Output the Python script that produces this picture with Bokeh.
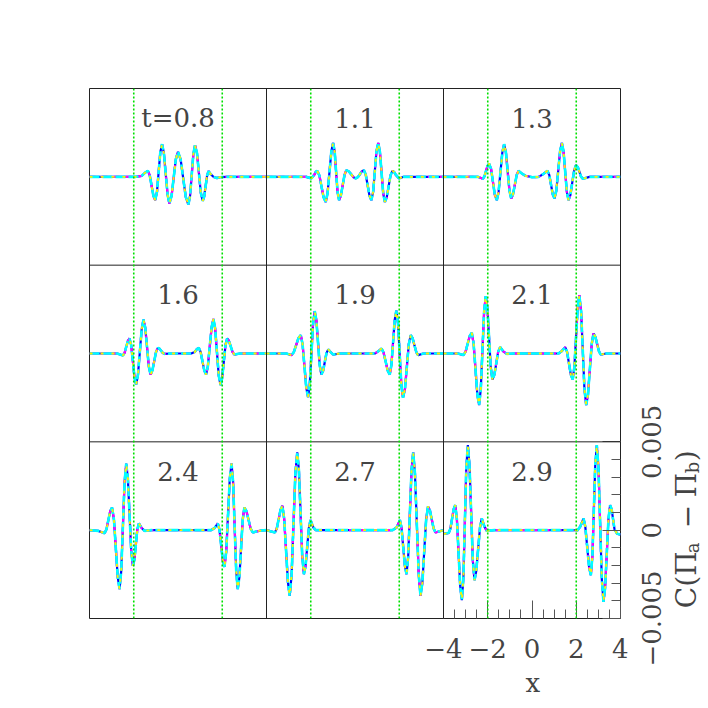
import math
from bokeh.plotting import figure
from bokeh.layouts import row
from bokeh.models import Span, Label, FixedTicker, Range1d, ColumnDataSource, Title
from bokeh.core.properties import value
from bokeh.embed import file_html
from bokeh.resources import INLINE

# ---------------- data: C(Pi_a - Pi_b) in units of 1e-3, x from -4 to 4 ----------------
TIMES = ["t=0.8", "1.1", "1.3", "1.6", "1.9", "2.1", "2.4", "2.7", "2.9"]

X1 = [-4.0, -2.5, -1.9, -1.65, -1.5, -1.36, -1.28, -1.195, -1.11, -1.03, -0.95, -0.875, -0.80, -0.72,
      -0.64, -0.555, -0.47, -0.39, -0.29, -0.195, -0.10, 0.0, 0.12, 0.235, 0.35, 0.47, 0.545, 0.62,
      0.695, 0.77, 0.86, 0.945, 1.03, 1.12, 1.185, 1.25, 1.315, 1.38, 1.48, 1.60, 1.75, 1.90, 2.2, 4.0]
Y1 = [0, 0, 0, 0.05, 0.22, 0.34, 0.10, -0.49, -1.08, -1.32, -0.86, 0.27, 1.39, 1.85,
      1.36, 0.17, -1.02, -1.51, -1.08, -0.05, 0.99, 1.42, 0.98, -0.08, -1.13, -1.57, -1.08, 0.11,
      1.30, 1.79, 1.33, 0.22, -0.90, -1.36, -1.11, -0.52, 0.07, 0.32, 0.15, 0.0, -0.07, -0.02, 0, 0]

X2 = [-4.0, -2.2, -1.97, -1.84, -1.775, -1.71, -1.61, -1.515, -1.42, -1.32, -1.24, -1.155, -1.07, -0.99,
      -0.92, -0.855, -0.79, -0.72, -0.64, -0.555, -0.47, -0.39, -0.28, -0.175, -0.07, 0.04, 0.13, 0.22,
      0.31, 0.40, 0.485, 0.57, 0.655, 0.74, 0.82, 0.895, 0.97, 1.05, 1.125, 1.20, 1.275, 1.35, 1.435,
      1.52, 1.605, 1.69, 1.765, 1.84, 1.99, 2.2, 4.0]
Y2 = [0, 0, -0.09, 0.12, 0.28, 0.34, 0.08, -0.54, -1.16, -1.42, -0.93, 0.25, 1.43, 1.92,
      1.45, 0.30, -0.85, -1.32, -1.07, -0.47, 0.13, 0.38, 0.31, 0.145, -0.02, -0.09, -0.02, 0.145,
      0.31, 0.38, 0.13, -0.47, -1.07, -1.32, -0.85, 0.30, 1.45, 1.92, 1.43, 0.25, -0.93, -1.42, -1.16,
      -0.54, 0.08, 0.34, 0.28, 0.12, -0.09, 0, 0]

X3 = [-4.0, -2.45, -2.22, -2.15, -2.08, -2.01, -1.94, -1.85, -1.765, -1.68, -1.59, -1.51, -1.425, -1.34,
      -1.26, -1.18, -1.10, -1.02, -0.94, -0.86, -0.775, -0.69, -0.61, -0.45, -0.30, 0.0, 0.30, 0.50,
      0.70, 0.78, 0.86, 0.94, 1.02, 1.10, 1.185, 1.27, 1.35, 1.425, 1.50, 1.575, 1.65, 1.735, 1.82,
      1.905, 1.99, 2.07, 2.145, 2.22, 2.30, 2.6, 4.0]
Y3 = [0, 0, -0.11, 0.02, 0.32, 0.62, 0.75, 0.45, -0.285, -1.02, -1.32, -0.855, 0.265, 1.385,
      1.85, 1.40, 0.31, -0.78, -1.23, -1.00, -0.445, 0.11, 0.34, 0.18, 0.06, -0.02, 0.0, 0.15,
      0.34, 0.11, -0.445, -1.00, -1.23, -0.77, 0.345, 1.46, 1.92, 1.45, 0.30, -0.85, -1.32, -1.03, -0.33,
      0.37, 0.66, 0.55, 0.275, 0.0, -0.11, 0, 0]

X4 = [-4.0, -2.75, -2.49, -2.415, -2.34, -2.265, -2.19, -2.115, -2.04, -1.965, -1.89, -1.81, -1.725, -1.64,
      -1.56, -1.48, -1.40, -1.32, -1.24, -1.16, -1.075, -0.99, -0.91, -0.835, -0.76, -0.685, -0.61, -0.3,
      0.6, 0.75, 0.85, 0.94, 1.02, 1.105, 1.19, 1.27, 1.35, 1.435, 1.52, 1.60, 1.68, 1.76, 1.84, 1.92,
      1.995, 2.07, 2.145, 2.22, 2.30, 2.385, 2.47, 2.55, 2.8, 4.0]
Y4 = [0, 0, -0.11, 0.03, 0.37, 0.71, 0.85, 0.47, -0.45, -1.37, -1.75, -1.21, 0.085, 1.38,
      1.92, 1.46, 0.365, -0.73, -1.19, -0.97, -0.435, 0.10, 0.32, 0.27, 0.15, 0.03, -0.02, 0,
      0, 0.08, 0.24, 0.32, 0.10, -0.435, -0.97, -1.19, -0.73, 0.385, 1.50, 1.96, 1.41, 0.085, -1.24, -1.79,
      -1.40, -0.47, 0.46, 0.85, 0.72, 0.395, 0.07, -0.06, 0, 0]

X5 = [-4.0, -3.1, -2.87, -2.765, -2.66, -2.555, -2.45, -2.37, -2.285, -2.20, -2.12, -2.045, -1.97, -1.895,
      -1.82, -1.745, -1.67, -1.595, -1.52, -1.44, -1.365, -1.29, -1.21, -1.10, -0.99, -0.7, 0.9, 1.05,
      1.20, 1.29, 1.385, 1.48, 1.57, 1.645, 1.72, 1.795, 1.87, 1.945, 2.02, 2.095, 2.17, 2.26, 2.345,
      2.43, 2.52, 2.60, 2.685, 2.77, 2.85, 3.1, 4.0]
Y5 = [0, 0, -0.09, 0.08, 0.475, 0.87, 1.04, 0.53, -0.715, -1.96, -2.47, -1.76, -0.035, 1.69,
      2.40, 1.87, 0.605, -0.66, -1.19, -0.98, -0.48, 0.02, 0.23, 0.08, -0.06, 0, 0, 0.12,
      0.28, 0.06, -0.455, -0.975, -1.19, -0.66, 0.62, 1.90, 2.43, 1.71, -0.04, -1.79, -2.51, -1.99, -0.735,
      0.52, 1.04, 0.87, 0.475, 0.08, -0.09, 0, 0]

X6 = [-4.0, -3.35, -3.10, -3.005, -2.91, -2.815, -2.72, -2.64, -2.555, -2.47, -2.39, -2.315, -2.24, -2.165,
      -2.09, -2.015, -1.94, -1.865, -1.79, -1.70, -1.615, -1.53, -1.44, -1.30, -1.14, -0.8, 1.2, 1.35,
      1.50, 1.585, 1.67, 1.755, 1.84, 1.915, 1.99, 2.065, 2.14, 2.22, 2.295, 2.37, 2.45, 2.53, 2.615,
      2.70, 2.78, 2.86, 2.945, 3.03, 3.11, 3.35, 4.0]
Y6 = [0, 0, -0.09, 0.09, 0.54, 0.99, 1.17, 0.57, -0.875, -2.32, -2.92, -2.02, 0.165, 2.35,
      3.25, 2.56, 0.89, -0.78, -1.47, -1.20, -0.555, 0.09, 0.36, 0.12, -0.02, 0, 0, 0.14,
      0.36, 0.09, -0.555, -1.20, -1.47, -0.77, 0.915, 2.60, 3.30, 2.39, 0.19, -2.01, -2.92, -2.33, -0.895,
      0.54, 1.13, 0.96, 0.535, 0.11, -0.06, 0, 0]

X7 = [-4.0, -3.6, -3.32, -3.235, -3.15, -3.065, -2.98, -2.895, -2.81, -2.725, -2.64, -2.565, -2.49, -2.415,
      -2.34, -2.265, -2.19, -2.115, -2.04, -1.97, -1.905, -1.84, -1.77, -1.64, -1.51, -1.2, 1.5, 1.65,
      1.80, 1.875, 1.95, 2.025, 2.10, 2.18, 2.26, 2.34, 2.42, 2.49, 2.56, 2.63, 2.70, 2.775, 2.85,
      2.925, 3.00, 3.095, 3.19, 3.285, 3.38, 3.7, 4.0]
Y7 = [0, -0.04, -0.17, 0.04, 0.555, 1.07, 1.28, 0.60, -1.03, -2.66, -3.34, -2.30, 0.215, 2.73,
      3.77, 2.92, 0.875, -1.17, -2.02, -1.67, -0.82, 0.03, 0.38, 0.12, -0.04, 0, 0, 0.12,
      0.38, 0.02, -0.85, -1.72, -2.08, -1.22, 0.845, 2.91, 3.77, 2.73, 0.215, -2.30, -3.34, -2.66, -1.03,
      0.60, 1.28, 1.07, 0.575, 0.08, -0.13, -0.03, 0]

X8 = [-4.0, -3.62, -3.535, -3.45, -3.365, -3.28, -3.20, -3.115, -3.03, -2.95, -2.865, -2.78, -2.695, -2.61,
      -2.535, -2.46, -2.385, -2.31, -2.235, -2.16, -2.085, -2.01, -1.89, -1.77, -1.4, 1.7, 1.88, 2.03,
      2.105, 2.18, 2.255, 2.33, 2.405, 2.48, 2.555, 2.63, 2.71, 2.795, 2.88, 2.96, 3.045, 3.13, 3.215,
      3.30, 3.385, 3.47, 3.555, 3.64, 4.0]
Y8 = [0, -0.13, 0.09, 0.625, 1.16, 1.38, 0.63, -1.17, -2.97, -3.72, -2.53, 0.34, 3.21, 4.40,
      3.39, 0.955, -1.48, -2.49, -2.04, -0.96, 0.12, 0.57, 0.17, 0, 0, 0, 0.15, 0.57,
      0.12, -0.96, -2.04, -2.49, -1.48, 0.955, 3.39, 4.40, 3.21, 0.34, -2.53, -3.72, -2.98, -1.19, 0.60,
      1.34, 1.13, 0.605, 0.09, -0.13, 0]

X9 = [-4.0, -3.76, -3.69, -3.615, -3.54, -3.47, -3.395, -3.32, -3.245, -3.17, -3.10, -3.035, -2.97, -2.90,
      -2.825, -2.75, -2.675, -2.60, -2.52, -2.435, -2.35, -2.27, -2.15, -2.04, -1.7, 1.9, 2.05, 2.18,
      2.33, 2.41, 2.495, 2.58, 2.66, 2.73, 2.795, 2.86, 2.93, 3.005, 3.08, 3.155, 3.23, 3.305, 3.38,
      3.455, 3.53, 3.60, 3.665, 3.73, 3.85, 4.0]
Y9 = [-0.22, -0.15, 0.08, 0.635, 1.19, 1.42, 0.63, -1.27, -3.17, -3.96, -2.68, 0.425, 3.53, 4.81,
      3.69, 0.99, -1.71, -2.83, -2.32, -1.085, 0.15, 0.66, 0.2, -0.04, 0, 0, -0.02, 0.2,
      0.66, 0.19, -0.945, -2.08, -2.55, -1.47, 1.13, 3.73, 4.81, 3.51, 0.375, -2.76, -4.06, -3.26, -1.32,
      0.62, 1.42, 1.18, 0.61, 0.04, -0.2, -0.25]

XS = [X1, X2, X3, X4, X5, X6, X7, X8, X9]
YS = [Y1, Y2, Y3, Y4, Y5, Y6, Y7, Y8, Y9]

X_TICKS = [-4, -2, 0, 2, 4]
X_TICK_LABELS = ["\u22124", "\u22122", "0", "2", "4"]
X_MINOR = [-3.5, -3, -2.5, -1.5, -1, -0.5, 0.5, 1, 1.5, 2.5, 3, 3.5]
Y_TICKS = [-5, 0, 5]                      # units of 1e-3
Y_TICK_LABELS = ["\u22120.005", "0", "0.005"]
Y_MINOR = [-4, -3, -2, -1, 1, 2, 3, 4]
GUIDES = [-2, 2]
X_LABEL = "x"
Y_LABEL_PARTS = ["C(\u03a0", "a", "\u2212", "\u03a0", "b", ")"]   # C(Pi_a - Pi_b)
Y_LABEL_IS_SUB = [False, True, False, False, True, False]

# ---------------- layout ----------------
NCOL, NROW = 3, 3
PW, PH = 8, 10           # panel extent in data units (x: -4..4, y: -5..5 e-3)
FONT = "DejaVu Serif"
TXT = "#444444"
H = 708
TOP, BOTTOM, LEFT = 88, 90, 89
FRAME_W, FRAME_H = 531, 530
PXU = FRAME_H / (NROW * PH)          # pixels per y data unit
P_W = LEFT + FRAME_W + 8

def xoff(c):
    return c * PW

def yoff(r):
    return (1 - r) * PH

p = figure(width=P_W, height=H,
           x_range=Range1d(-4, -4 + NCOL * PW), y_range=Range1d(-15, 15),
           output_backend="svg", toolbar_location=None, y_axis_location="right",
           min_border_left=LEFT, min_border_right=8, min_border_top=TOP, min_border_bottom=BOTTOM)
p.xgrid.visible = False
p.ygrid.visible = False
p.outline_line_color = "#222222"
p.outline_line_alpha = 1.0
p.background_fill_color = "white"
p.border_fill_color = "white"

for c in range(1, NCOL):
    p.add_layout(Span(location=-4 + c * PW, dimension="height", line_color="#222222", line_width=1))
for r in range(1, NROW):
    p.add_layout(Span(location=15 - r * PH, dimension="width", line_color="#222222", line_width=1))

for c in range(NCOL):
    for g in GUIDES:
        p.add_layout(Span(location=g + xoff(c), dimension="height", line_color="#00e000",
                          line_width=1.6, line_dash="2 2"))

STYLES = [("#0000ff", "solid", 2.2), ("#ff00ff", "6 6", 2.2), ("#00ffff", "10 3", 2.6), ("#ffee00", "3 8", 1.8)]

for i, (xs, ys) in enumerate(zip(XS, YS)):
    r, c = divmod(i, NCOL)
    src = ColumnDataSource(dict(x=[x + xoff(c) for x in xs], y=[y + yoff(r) for y in ys]))
    for col, dash, w in STYLES:
        p.line("x", "y", source=src, line_color=col, line_dash=dash, line_width=w)
    p.add_layout(Label(x=xoff(c), y=yoff(r) + PH / 2 - 1.67, text=TIMES[i], text_align="center",
                       text_baseline="middle", text_font=FONT, text_font_size="26px", text_color=TXT))

xt = [t + xoff(2) for t in X_TICKS]
p.xaxis.ticker = FixedTicker(ticks=xt, minor_ticks=[t + xoff(2) for t in X_MINOR])
p.xaxis.major_label_overrides = {t: lab for t, lab in zip(xt, X_TICK_LABELS)}
p.xaxis.major_label_standoff = 20
p.xaxis.major_label_text_font = FONT
p.xaxis.major_label_text_font_size = "26px"
p.xaxis.major_label_text_color = TXT
yt = [t + yoff(2) for t in Y_TICKS]
p.yaxis.ticker = FixedTicker(ticks=yt, minor_ticks=[t + yoff(2) for t in Y_MINOR])
p.yaxis.major_label_overrides = {t: "" for t in yt}
p.yaxis.major_label_text_font_size = "1px"
p.yaxis.major_label_standoff = 0
for ax in (p.xaxis, p.yaxis):
    ax.axis_line_color = None
    ax.major_tick_in = 18
    ax.major_tick_out = 0
    ax.minor_tick_in = 9
    ax.minor_tick_out = 0
    ax.major_tick_line_color = "#555555"
    ax.minor_tick_line_color = "#555555"

p.add_layout(Title(text=X_LABEL, align="left", offset=436, standoff=10, text_font=FONT,
                   text_font_size="26px", text_font_style="normal", text_color=TXT), "below")

# right strip: y tick labels (rotated) and the y-axis title, same vertical scale as the panels
Q_W = 708 - P_W
q = figure(width=Q_W, height=H, x_range=Range1d(P_W, 708),
           y_range=Range1d(-15 - BOTTOM / PXU, 15 + TOP / PXU),
           output_backend="svg", toolbar_location=None, x_axis_location=None, y_axis_location=None,
           min_border_left=0, min_border_right=0, min_border_top=0, min_border_bottom=0)
for fig in (p, q):
    if "frame_align" in fig.properties():
        fig.frame_align = False
q.grid.visible = False
q.outline_line_color = None
q.background_fill_color = "white"
q.border_fill_color = "white"

q.text(x=[651] * len(Y_TICKS), y=yt, text=Y_TICK_LABELS, angle=math.pi / 2, text_align="center",
       text_baseline="middle", text_font=value(FONT), text_font_size="26px", text_color=TXT)

# y title pieces: offsets (px, along the text direction, from the title centre) and sizes
LX, SUBDX = 686, 6
ALONG = [-78, -23, 2, 33, 57, 69]       # start of each piece, px above title centre
main = [(LX, yoff(2) + a / PXU, t) for t, a, s in zip(Y_LABEL_PARTS, ALONG, Y_LABEL_IS_SUB) if not s]
subs = [(LX + SUBDX, yoff(2) + a / PXU, t) for t, a, s in zip(Y_LABEL_PARTS, ALONG, Y_LABEL_IS_SUB) if s]
q.text(x=[m[0] for m in main], y=[m[1] for m in main], text=[m[2] for m in main], angle=math.pi / 2,
       text_align="left", text_baseline="middle", text_font=value(FONT), text_font_size="28px",
       text_color=TXT)
q.text(x=[m[0] for m in subs], y=[m[1] for m in subs], text=[m[2] for m in subs], angle=math.pi / 2,
       text_align="left", text_baseline="middle", text_font=value(FONT), text_font_size="18px",
       text_color=TXT)

layout = row(p, q, spacing=0)
open("out.html", "w").write(file_html(layout, INLINE))
